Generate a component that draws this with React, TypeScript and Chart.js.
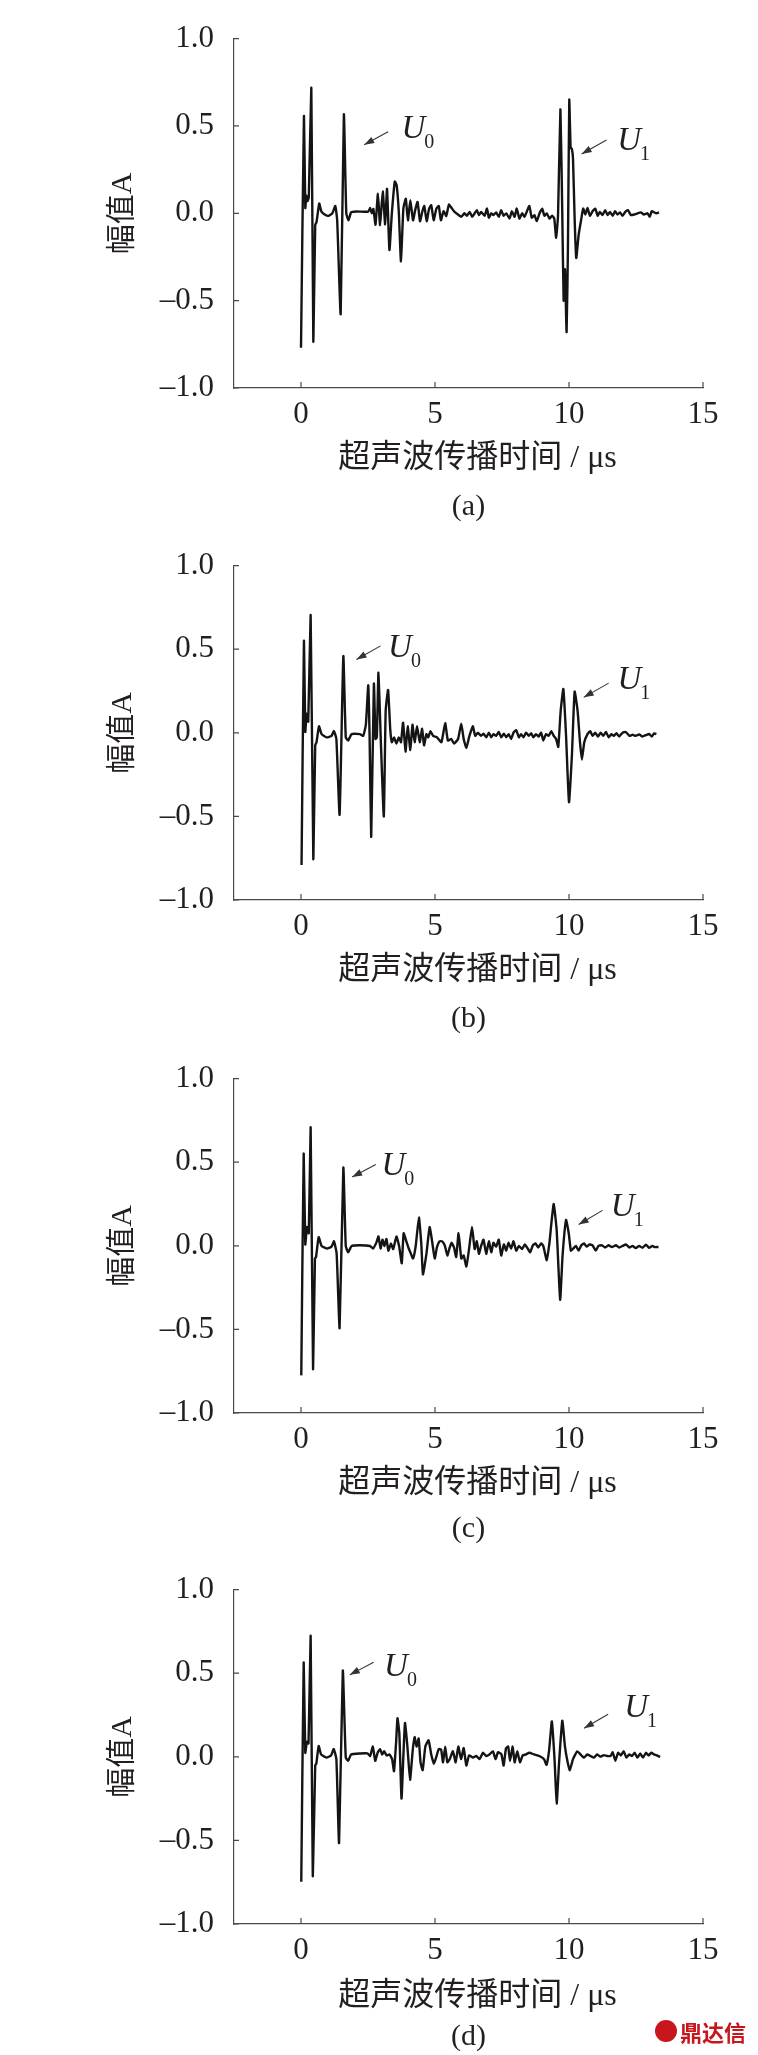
import React, { useEffect, useRef } from 'react';
import { Chart, registerables } from 'chart.js';

Chart.register(...registerables);

// ---------------- data ----------------
const timeA = [0.00, 0.11, 0.16, 0.20, 0.24, 0.29, 0.385, 0.46, 0.53, 0.58,
  0.68, 0.76, 0.87, 1.02, 1.17, 1.28, 1.35, 1.48, 1.60, 1.69,
  1.77, 1.87, 2.07, 2.51, 2.58, 2.64, 2.70, 2.78, 2.87, 2.95,
  3.05, 3.14, 3.21, 3.30, 3.39, 3.50, 3.57, 3.65, 3.73, 3.82,
  3.91, 3.99, 4.08, 4.18, 4.26, 4.35, 4.44, 4.53, 4.60, 4.69,
  4.78, 4.86, 4.95, 5.05, 5.14, 5.22, 5.32, 5.42, 5.52, 5.62,
  5.73, 5.86, 5.98, 6.10, 6.19, 6.29, 6.39, 6.48, 6.56, 6.64,
  6.72, 6.85, 6.94, 7.01, 7.10, 7.18, 7.28, 7.38, 7.47, 7.56,
  7.66, 7.78, 7.87, 7.97, 8.05, 8.15, 8.25, 8.34, 8.42, 8.52,
  8.61, 8.71, 8.80, 8.90, 9.00, 9.08, 9.17, 9.27, 9.37, 9.45,
  9.52, 9.59, 9.68, 9.75, 9.80, 9.85, 9.91, 9.96, 10.01, 10.06,
  10.11, 10.15, 10.21, 10.27, 10.36, 10.45, 10.53, 10.61, 10.69, 10.78,
  10.88, 10.98, 11.07, 11.15, 11.25, 11.35, 11.44, 11.53, 11.63, 11.72,
  11.81, 11.90, 12.00, 12.10, 12.20, 12.31, 12.43, 12.56, 12.68, 12.80,
  12.93, 13.01, 13.09, 13.18, 13.26, 13.36];
const ampA = [-0.77, 0.556, 0.03, 0.10, 0.07, 0.09, 0.717, -0.734, -0.067, -0.05,
  0.056, 0.01, -0.005, -0.015, 0.0, 0.042, -0.04, -0.577, 0.566, 0.0,
  -0.04, 0.005, 0.01, 0.01, 0.03, 0.0, 0.025, -0.065, 0.112, -0.067,
  0.125, -0.063, 0.14, -0.21, 0.0, 0.182, 0.16, 0.005, -0.275, 0.027,
  0.084, -0.04, 0.075, -0.04, 0.018, 0.065, -0.045, 0.012, 0.042, -0.045,
  0.027, 0.046, -0.04, 0.027, 0.042, -0.04, 0.012, -0.015, 0.05, 0.03,
  0.008, -0.007, -0.02, 0.0, -0.014, 0.008, -0.02, 0.0, 0.018, -0.01,
  0.008, -0.014, 0.027, -0.025, 0.0, -0.01, 0.005, -0.02, 0.018, -0.014,
  0.0, -0.03, 0.012, -0.02, 0.027, -0.03, 0.0, -0.02, 0.008, 0.042,
  -0.025, -0.01, -0.045, 0.0, 0.027, -0.014, 0.0, -0.03, -0.014, -0.03,
  -0.14, -0.014, 0.594, -0.01, -0.5, -0.32, -0.68, -0.2, 0.65, 0.377,
  0.367, 0.31, -0.03, -0.256, -0.124, -0.04, 0.027, -0.007, 0.031, -0.014,
  0.012, 0.027, -0.014, 0.008, -0.01, 0.018, -0.01, 0.008, -0.014, 0.012,
  -0.007, 0.005, -0.014, 0.008, 0.018, -0.01, -0.007, 0.0, 0.005, -0.007,
  0.0, -0.02, 0.012, 0.005, 0.0, 0.005];

const timeB = [0.02, 0.11, 0.16, 0.21, 0.27, 0.36, 0.46, 0.53, 0.58, 0.67,
  0.77, 0.96, 1.14, 1.23, 1.32, 1.44, 1.58, 1.67, 1.76, 1.89,
  2.20, 2.32, 2.42, 2.51, 2.56, 2.62, 2.72, 2.78, 2.83, 2.89,
  2.98, 3.09, 3.16, 3.25, 3.33, 3.39, 3.47, 3.56, 3.65, 3.73,
  3.81, 3.90, 3.98, 4.08, 4.16, 4.24, 4.33, 4.43, 4.52, 4.59,
  4.68, 4.75, 4.83, 4.93, 5.07, 5.24, 5.38, 5.48, 5.61, 5.71,
  5.86, 5.98, 6.07, 6.17, 6.27, 6.41, 6.50, 6.60, 6.72, 6.81,
  6.91, 7.01, 7.10, 7.18, 7.28, 7.38, 7.47, 7.57, 7.66, 7.75,
  7.84, 7.93, 8.03, 8.13, 8.21, 8.30, 8.40, 8.50, 8.59, 8.67,
  8.77, 8.87, 8.96, 9.04, 9.14, 9.24, 9.34, 9.43, 9.52, 9.60,
  9.69, 9.79, 9.89, 10.00, 10.11, 10.21, 10.32, 10.41, 10.48, 10.57,
  10.69, 10.79, 10.88, 10.98, 11.08, 11.18, 11.28, 11.38, 11.48, 11.58,
  11.67, 11.77, 11.87, 12.00, 12.12, 12.25, 12.37, 12.49, 12.62, 12.74,
  12.87, 12.99, 13.09, 13.18, 13.26];
const ampB = [-0.79, 0.549, 0.005, 0.114, 0.067, 0.703, -0.755, -0.075, -0.056, 0.039,
  -0.008, -0.027, -0.018, 0.01, -0.037, -0.49, 0.458, -0.027, -0.046, -0.008,
  -0.008, -0.018, 0.048, 0.284, -0.027, -0.622, 0.294, -0.037, -0.027, 0.36,
  -0.056, -0.5, 0.133, 0.256, 0.02, -0.056, -0.027, -0.065, -0.027, -0.056,
  0.061, -0.112, 0.039, -0.103, 0.048, -0.056, 0.039, -0.056, 0.024, -0.075,
  -0.008, -0.027, 0.01, -0.018, -0.027, -0.056, 0.058, -0.046, -0.037, -0.065,
  -0.037, 0.054, -0.037, -0.09, -0.027, 0.039, -0.018, 0.0, -0.018, -0.005,
  -0.027, 0.001, -0.027, -0.008, -0.018, 0.005, -0.027, -0.005, -0.027, -0.008,
  -0.037, 0.001, 0.016, -0.027, -0.008, -0.027, 0.001, -0.018, -0.003, -0.027,
  -0.008, -0.022, 0.001, -0.046, -0.008, -0.018, 0.01, -0.018, -0.037, -0.084,
  0.133, 0.262, -0.018, -0.415, -0.13, 0.246, 0.133, -0.056, -0.16, -0.056,
  -0.008, 0.01, -0.018, 0.001, -0.022, 0.001, -0.018, 0.005, -0.027, -0.008,
  -0.018, -0.003, -0.022, 0.001, 0.005, -0.018, -0.012, -0.018, -0.01, -0.022,
  -0.014, -0.007, -0.022, -0.003, -0.008];

const timeC = [0.01, 0.10, 0.16, 0.22, 0.29, 0.36, 0.45, 0.52, 0.56, 0.66,
  0.77, 0.96, 1.14, 1.23, 1.33, 1.44, 1.58, 1.67, 1.76, 1.89,
  2.20, 2.57, 2.69, 2.82, 2.89, 2.97, 3.04, 3.11, 3.19, 3.26,
  3.36, 3.44, 3.56, 3.66, 3.76, 3.83, 3.93, 4.02, 4.08, 4.18,
  4.28, 4.40, 4.49, 4.55, 4.68, 4.80, 4.90, 4.99, 5.07, 5.17,
  5.27, 5.37, 5.46, 5.55, 5.62, 5.71, 5.79, 5.88, 5.98, 6.07,
  6.17, 6.27, 6.38, 6.48, 6.56, 6.64, 6.72, 6.81, 6.91, 7.01,
  7.10, 7.18, 7.28, 7.38, 7.47, 7.57, 7.66, 7.74, 7.84, 7.93,
  8.03, 8.13, 8.25, 8.35, 8.46, 8.55, 8.65, 8.75, 8.85, 8.96,
  9.04, 9.17, 9.27, 9.34, 9.43, 9.54, 9.67, 9.76, 9.89, 9.99,
  10.07, 10.16, 10.26, 10.36, 10.46, 10.56, 10.66, 10.76, 10.88, 11.00,
  11.10, 11.23, 11.35, 11.48, 11.60, 11.75, 11.87, 12.00, 12.12, 12.25,
  12.37, 12.49, 12.62, 12.74, 12.87, 12.99, 13.11, 13.21, 13.34];
const ampC = [-0.775, 0.55, 0.008, 0.112, 0.075, 0.707, -0.737, -0.076, -0.067, 0.052,
  -0.001, -0.016, -0.005, 0.027, -0.048, -0.492, 0.467, -0.001, -0.039, -0.001,
  0.003, -0.001, -0.016, 0.022, 0.056, -0.016, 0.037, -0.001, 0.041, -0.029,
  0.014, -0.02, 0.056, -0.001, -0.105, 0.075, 0.027, -0.016, -0.039, -0.076,
  -0.001, 0.169, 0.008, -0.171, -0.048, 0.112, 0.018, -0.076, -0.01, 0.027,
  0.027, -0.001, -0.058, -0.01, 0.018, -0.01, -0.067, 0.075, -0.076, -0.058,
  -0.124, -0.02, 0.112, -0.02, 0.027, -0.048, -0.001, 0.037, -0.048, 0.027,
  -0.039, 0.018, -0.005, 0.037, -0.058, 0.008, -0.029, 0.018, -0.016, 0.027,
  -0.029, -0.001, -0.02, 0.008, -0.016, -0.039, 0.003, 0.014, -0.01, 0.014,
  -0.001, -0.086, 0.018, 0.131, 0.25, 0.093, -0.322, -0.058, 0.154, 0.075,
  -0.029, -0.016, -0.001, -0.029, 0.003, 0.014, -0.005, 0.008, 0.003, -0.029,
  -0.001, 0.003, -0.01, 0.003, -0.008, 0.003, -0.01, -0.001, 0.008, -0.01,
  -0.001, -0.014, -0.001, -0.012, 0.007, -0.012, -0.001, -0.008, -0.007];

const timeD = [0.01, 0.10, 0.16, 0.22, 0.28, 0.36, 0.44, 0.53, 0.57, 0.66,
  0.75, 0.95, 1.12, 1.22, 1.32, 1.42, 1.56, 1.67, 1.76, 1.87,
  2.21, 2.48, 2.58, 2.68, 2.77, 2.86, 2.95, 3.03, 3.10, 3.20,
  3.30, 3.40, 3.47, 3.55, 3.60, 3.67, 3.75, 3.82, 3.88, 3.97,
  4.07, 4.17, 4.24, 4.31, 4.39, 4.46, 4.54, 4.64, 4.76, 4.86,
  4.96, 5.06, 5.14, 5.23, 5.30, 5.38, 5.46, 5.55, 5.67, 5.77,
  5.87, 5.97, 6.07, 6.17, 6.27, 6.42, 6.54, 6.66, 6.79, 6.91,
  7.03, 7.16, 7.26, 7.35, 7.48, 7.56, 7.65, 7.73, 7.80, 7.90,
  7.97, 8.07, 8.17, 8.27, 8.39, 8.52, 8.70, 8.89, 9.07, 9.16,
  9.26, 9.36, 9.46, 9.54, 9.63, 9.75, 9.85, 9.95, 10.03, 10.15,
  10.31, 10.43, 10.56, 10.68, 10.80, 10.93, 11.05, 11.17, 11.30, 11.42,
  11.55, 11.63, 11.73, 11.83, 11.93, 12.04, 12.14, 12.25, 12.35, 12.45,
  12.55, 12.66, 12.76, 12.87, 12.97, 13.07, 13.17, 13.26, 13.40];
const ampD = [-0.747, 0.562, 0.024, 0.09, 0.08, 0.722, -0.713, -0.052, -0.042, 0.065,
  0.014, -0.005, 0.008, 0.046, -0.014, -0.515, 0.515, -0.005, -0.024, 0.014,
  0.02, 0.02, 0.005, 0.061, -0.024, 0.024, 0.046, 0.014, 0.033, 0.008,
  0.014, -0.014, -0.086, 0.09, 0.231, 0.137, -0.25, 0.005, 0.203, 0.061,
  -0.137, 0.042, 0.118, 0.061, 0.109, -0.033, -0.08, 0.061, 0.099, 0.014,
  -0.042, 0.005, 0.046, 0.042, -0.033, 0.061, -0.033, -0.014, 0.033, -0.033,
  0.061, -0.014, 0.052, -0.052, 0.008, -0.005, 0.005, -0.014, 0.024, 0.005,
  0.014, 0.033, -0.014, 0.027, 0.014, -0.052, 0.052, 0.061, -0.024, 0.061,
  -0.033, 0.033, -0.033, 0.008, 0.014, 0.024, 0.014, 0.005, -0.014, -0.048,
  0.042, 0.212, -0.014, -0.279, -0.033, 0.216, 0.061, -0.033, -0.08, -0.014,
  0.033, 0.014, -0.005, 0.014, 0.005, -0.005, 0.014, 0.001, 0.01, 0.005,
  0.005, 0.027, -0.024, 0.024, 0.008, 0.033, -0.005, 0.014, 0.005, 0.024,
  -0.005, 0.02, -0.005, 0.024, 0.008, 0.024, 0.014, 0.01, -0.001];

const xTickValues = [0, 5, 10, 15];
const yTickValues = [-1, -0.5, 0, 0.5, 1];
const xMin = -2.5;
const xMax = 15;
const yMin = -1;
const yMax = 1;

const captions = ['(a)', '(b)', '(c)', '(d)'];
const yAxisTitle = '幅值A';
const xAxisTitle = '超声波传播时间 / μs';

// arrow labels (data coordinates)
const notesA = [
  { label: 'U', sub: '0', textX: 3.75, textY: 0.433, tailX: 3.25, tailY: 0.467, headX: 2.36, headY: 0.392 },
  { label: 'U', sub: '1', textX: 11.8, textY: 0.365, tailX: 11.4, tailY: 0.42, headX: 10.47, headY: 0.34 },
];
const notesB = [
  { label: 'U', sub: '0', textX: 3.25, textY: 0.454, tailX: 2.97, tailY: 0.52, headX: 2.07, headY: 0.439 },
  { label: 'U', sub: '1', textX: 11.81, textY: 0.262, tailX: 11.48, tailY: 0.297, headX: 10.55, headY: 0.212 },
];
const notesC = [
  { label: 'U', sub: '0', textX: 3.0, textY: 0.424, tailX: 2.79, tailY: 0.486, headX: 1.91, headY: 0.411 },
  { label: 'U', sub: '1', textX: 11.56, textY: 0.178, tailX: 11.25, tailY: 0.212, headX: 10.36, headY: 0.127 },
];
const notesD = [
  { label: 'U', sub: '0', textX: 3.1, textY: 0.486, tailX: 2.71, tailY: 0.566, headX: 1.82, headY: 0.49 },
  { label: 'U', sub: '1', textX: 12.06, textY: 0.241, tailX: 11.46, tailY: 0.254, headX: 10.56, headY: 0.171 },
];

// ---------------- layout & style ----------------
const PAGE_W = 758;
const PAGE_H = 2055;
const PLOT_LEFT = 234;
const PLOT_RIGHT = 703;
const PLOT_H = 353;
const panelTops = [0, 527, 1040, 1551];
const panelHeights = [527, 513, 511, 504];
const plotTopOffsets = [35, 20, 20, 20];
const xTitleGaps = [71, 71, 71, 73];
const captionGaps = [119, 119, 116, 113];
const X_TITLE_SHIFT = 9;

const FONT = '"Liberation Serif", "Times New Roman", "Noto Sans CJK SC", serif';
const TEXT_COLOR = '#231f20';
const AXIS_COLOR = '#4a4a4a';
const LINE_COLOR = '#141414';
const TICK_SIZE = 31;
const X_TITLE_SIZE = 32;
const Y_TITLE_SIZE = 30;

type Note = { label: string; sub: string; textX: number; textY: number; tailX: number; tailY: number; headX: number; headY: number };

function Panel(props: {
  times: number[]; amps: number[]; notes: Note[]; caption: string;
  top: number; height: number; plotTop: number; xTitleGap: number; captionGap: number;
}) {
  const { times, amps, notes, caption, top, height, plotTop, xTitleGap, captionGap } = props;
  const ref = useRef<HTMLCanvasElement | null>(null);

  useEffect(() => {
    const canvas = ref.current;
    if (!canvas) return;
    const plotBottom = plotTop + PLOT_H;
    const xScaleHeight = height - plotBottom;
    const yTitleLH = Y_TITLE_SIZE * 1.2;

    const decor = {
      id: 'decor',
      afterDraw(chart: any) {
        const { ctx, chartArea: a, scales } = chart;
        const xs = scales.x;
        const ys = scales.y;
        ctx.save();
        // inward tick marks
        ctx.strokeStyle = AXIS_COLOR;
        ctx.lineWidth = 1.2;
        ctx.beginPath();
        xTickValues.forEach((v) => {
          const px = xs.getPixelForValue(v);
          ctx.moveTo(px, a.bottom);
          ctx.lineTo(px, a.bottom - 6);
        });
        yTickValues.forEach((v) => {
          const py = ys.getPixelForValue(v);
          ctx.moveTo(a.left, py);
          ctx.lineTo(a.left + 5, py);
        });
        ctx.stroke();

        // arrows and labels
        notes.forEach((n) => {
          const x1 = xs.getPixelForValue(n.tailX);
          const y1 = ys.getPixelForValue(n.tailY);
          const x2 = xs.getPixelForValue(n.headX);
          const y2 = ys.getPixelForValue(n.headY);
          ctx.strokeStyle = '#333';
          ctx.fillStyle = '#333';
          ctx.lineWidth = 1.1;
          ctx.beginPath();
          ctx.moveTo(x1, y1);
          ctx.lineTo(x2, y2);
          ctx.stroke();
          const ang = Math.atan2(y2 - y1, x2 - x1);
          const L = 10;
          const W = 3.5;
          const bx = x2 - L * Math.cos(ang);
          const by = y2 - L * Math.sin(ang);
          ctx.beginPath();
          ctx.moveTo(x2, y2);
          ctx.lineTo(bx + W * Math.sin(ang), by - W * Math.cos(ang));
          ctx.lineTo(bx - W * Math.sin(ang), by + W * Math.cos(ang));
          ctx.closePath();
          ctx.fill();

          const tx = xs.getPixelForValue(n.textX);
          const ty = ys.getPixelForValue(n.textY);
          ctx.fillStyle = TEXT_COLOR;
          ctx.textAlign = 'left';
          ctx.textBaseline = 'alphabetic';
          ctx.font = `italic 33px ${FONT}`;
          ctx.fillText(n.label, tx, ty);
          const w = ctx.measureText(n.label).width;
          ctx.font = `20px ${FONT}`;
          ctx.fillText(n.sub, tx + w - 1, ty + 10);
        });

        // x-axis title
        ctx.fillStyle = TEXT_COLOR;
        ctx.textAlign = 'center';
        ctx.textBaseline = 'middle';
        ctx.font = `${X_TITLE_SIZE}px ${FONT}`;
        ctx.fillText(xAxisTitle, (a.left + a.right) / 2 + X_TITLE_SHIFT, a.bottom + xTitleGap);

        // panel caption
        ctx.font = `30px ${FONT}`;
        ctx.fillText(caption, (a.left + a.right) / 2, a.bottom + captionGap);
        ctx.restore();
      },
    };

    const chart = new Chart(canvas, {
      type: 'line',
      data: {
        datasets: [{
          data: times.map((t, i) => ({ x: t, y: amps[i] })),
          borderColor: LINE_COLOR,
          borderWidth: 2.4,
          pointRadius: 0,
          tension: 0.15,
          fill: false,
        }],
      },
      options: {
        responsive: false,
        animation: false,
        devicePixelRatio: 1,
        layout: { padding: { left: 0, right: PAGE_W - PLOT_RIGHT, top: plotTop, bottom: 0 } },
        plugins: {
          legend: { display: false },
          tooltip: { enabled: false },
          title: { display: false },
        },
        scales: {
          x: {
            type: 'linear',
            min: xMin,
            max: xMax,
            afterBuildTicks: (s: any) => { s.ticks = xTickValues.map((v) => ({ value: v })); },
            afterFit: (s: any) => { s.height = xScaleHeight; },
            grid: { display: false, drawTicks: false },
            border: { display: true, color: AXIS_COLOR, width: 1.2 },
            ticks: {
              padding: 8,
              color: TEXT_COLOR,
              font: { family: FONT, size: TICK_SIZE, lineHeight: 1.2 },
              maxRotation: 0,
              autoSkip: false,
              callback: (v: any) => String(v),
            },
            title: { display: false },
          },
          y: {
            type: 'linear',
            min: yMin,
            max: yMax,
            afterBuildTicks: (s: any) => { s.ticks = yTickValues.map((v) => ({ value: v })); },
            afterFit: (s: any) => { s.width = PLOT_LEFT; },
            grid: { display: false, drawTicks: false },
            border: { display: true, color: AXIS_COLOR, width: 1.2 },
            ticks: {
              padding: 20,
              color: TEXT_COLOR,
              font: { family: FONT, size: TICK_SIZE, lineHeight: 1.2 },
              autoSkip: false,
              callback: (v: any) => (v < 0 ? '–' : '') + Math.abs(Number(v)).toFixed(1),
            },
            title: {
              display: true,
              text: yAxisTitle,
              color: TEXT_COLOR,
              font: { family: FONT, size: Y_TITLE_SIZE, lineHeight: 1.2 },
              padding: { top: 123 - yTitleLH / 2, bottom: 0 },
            },
          },
        },
      } as any,
      plugins: [decor],
    });
    return () => chart.destroy();
  }, [times, amps, notes, caption, height, plotTop, xTitleGap, captionGap]);

  return (
    <canvas
      ref={ref}
      width={PAGE_W}
      height={height}
      style={{ position: 'absolute', left: 0, top, width: PAGE_W, height, display: 'block' }}
    />
  );
}

const seriesTimes = [timeA, timeB, timeC, timeD];
const seriesAmps = [ampA, ampB, ampC, ampD];
const seriesNotes = [notesA, notesB, notesC, notesD];

export default function App() {
  return (
    <div style={{ position: 'absolute', left: 0, top: 0, width: PAGE_W, height: PAGE_H, background: '#fff', overflow: 'hidden' }}>
      {captions.map((c, i) => (
        <Panel
          key={c}
          times={seriesTimes[i]}
          amps={seriesAmps[i]}
          notes={seriesNotes[i]}
          caption={c}
          top={panelTops[i]}
          height={panelHeights[i]}
          plotTop={plotTopOffsets[i]}
          xTitleGap={xTitleGaps[i]}
          captionGap={captionGaps[i]}
        />
      ))}
      <div style={{ position: 'absolute', left: 655, top: 2019, display: 'flex', alignItems: 'center', gap: 3 }}>
        <div style={{ width: 22, height: 22, borderRadius: '50%', background: '#c8161d' }} />
        <span style={{ fontFamily: '"Noto Sans CJK SC", sans-serif', fontWeight: 700, fontSize: 22, lineHeight: '24px', color: '#c8161d' }}>鼎达信</span>
      </div>
    </div>
  );
}
